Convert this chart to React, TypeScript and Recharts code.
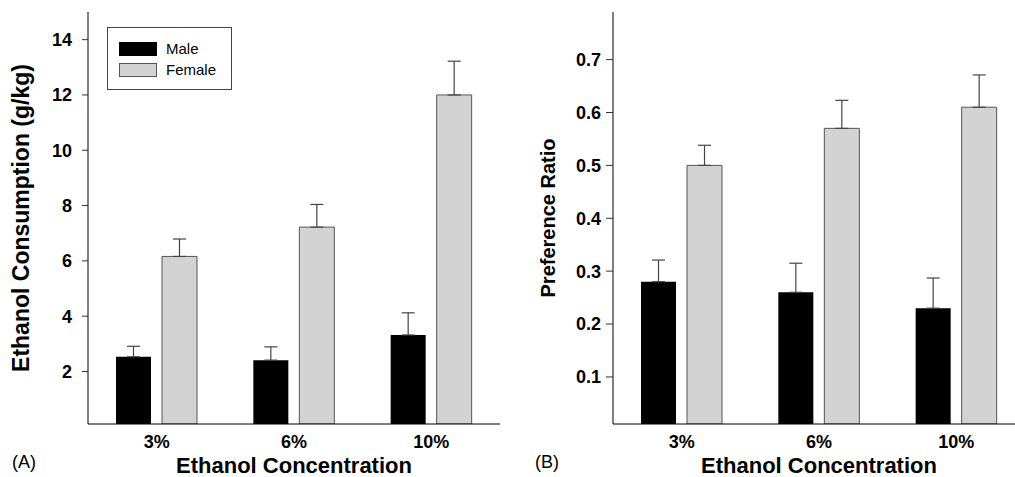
import React from 'react';
import { BarChart, Bar, XAxis, YAxis, ErrorBar } from 'recharts';

const concentrations = ['3%', '6%', '10%'];

// panel A: ethanol consumption (g/kg), mean and upper error
const maleConsumption = [2.53, 2.41, 3.32];
const maleConsumptionErr = [0.38, 0.48, 0.8];
const femaleConsumption = [6.16, 7.22, 12.0];
const femaleConsumptionErr = [0.63, 0.82, 1.22];

// panel B: preference ratio
const malePreference = [0.28, 0.26, 0.23];
const malePreferenceErr = [0.041, 0.055, 0.057];
const femalePreference = [0.5, 0.57, 0.61];
const femalePreferenceErr = [0.038, 0.053, 0.061];

const consumptionTicks = [2, 4, 6, 8, 10, 12, 14];
const preferenceTicks = [0.1, 0.2, 0.3, 0.4, 0.5, 0.6, 0.7];

const seriesNames = ['Male', 'Female'];
const seriesColors = ['#000000', '#d3d3d3'];

const FONT = '"Liberation Sans", Arial, Helvetica, sans-serif';

const buildRows = (male: number[], maleErr: number[], female: number[], femaleErr: number[]) =>
    concentrations.map((conc, i) => ({
        conc,
        male: male[i],
        maleErr: [0, maleErr[i]],
        female: female[i],
        femaleErr: [0, femaleErr[i]],
    }));

const consumptionRows = buildRows(maleConsumption, maleConsumptionErr, femaleConsumption, femaleConsumptionErr);
const preferenceRows = buildRows(malePreference, malePreferenceErr, femalePreference, femalePreferenceErr);

const YTitle = ({ viewBox, value, baseX, size }: any) => {
    const cy = viewBox.y + viewBox.height / 2;
    return (
        <text
            x={baseX}
            y={cy}
            transform={`rotate(-90 ${baseX} ${cy})`}
            textAnchor="middle"
            fontFamily={FONT}
            fontWeight="bold"
            fontSize={size}
            fill="#000"
        >
            {value}
        </text>
    );
};

const tickStyle = { fill: '#000', fontWeight: 'bold', fontSize: 18, fontFamily: FONT };

const Panel = ({ rows, ticks, domain, yTitle, yTitleX, yTitleSize, yWidth, yTickSize, yTickMargin, width, showRightFrame }: any) => (
    <BarChart
        width={width}
        height={477}
        data={rows}
        margin={{ top: 12, right: 20, left: 0, bottom: 0 }}
        barSize={35}
        barGap={11}
    >
        <XAxis
            dataKey="conc"
            height={53}
            tickSize={0}
            tickMargin={11}
            axisLine={{ stroke: '#000' }}
            tick={tickStyle}
            label={{
                value: 'Ethanol Concentration',
                position: 'insideBottom',
                offset: 4,
                fill: '#000',
                fontWeight: 'bold',
                fontSize: 22,
                fontFamily: FONT,
            }}
        />
        <XAxis xAxisId="top" dataKey="conc" orientation="top" height={0} tick={false} tickLine={false} axisLine={{ stroke: '#555' }} />
        <YAxis
            width={yWidth}
            domain={domain}
            ticks={ticks}
            allowDataOverflow
            tickSize={yTickSize}
            tickMargin={yTickMargin}
            tickLine={{ stroke: '#333' }}
            axisLine={{ stroke: '#000' }}
            tick={tickStyle}
            label={<YTitle value={yTitle} baseX={yTitleX} size={yTitleSize} />}
        />
        {showRightFrame && (
            <YAxis yAxisId="right" orientation="right" width={0} tick={false} tickLine={false} axisLine={{ stroke: '#555' }} />
        )}
        <Bar dataKey="male" name={seriesNames[0]} fill={seriesColors[0]} isAnimationActive={false}>
            <ErrorBar dataKey="maleErr" width={6.5} stroke="#444" strokeWidth={1.2} />
        </Bar>
        <Bar dataKey="female" name={seriesNames[1]} fill={seriesColors[1]} stroke="#555" strokeWidth={1} isAnimationActive={false}>
            <ErrorBar dataKey="femaleErr" width={6.5} stroke="#444" strokeWidth={1.2} />
        </Bar>
    </BarChart>
);

const Legend = () => (
    <div
        style={{
            position: 'absolute',
            left: 107,
            top: 27,
            width: 123,
            height: 61,
            border: '1px solid #444',
            background: '#fff',
            fontFamily: FONT,
            fontSize: 15,
            color: '#000',
        }}
    >
        {seriesNames.map((name, i) => (
            <div key={name} style={{ position: 'absolute', left: 11, top: 13 + i * 21.4, display: 'flex', alignItems: 'center', height: 15 }}>
                <div
                    style={{
                        width: 38,
                        height: 14,
                        background: seriesColors[i],
                        border: i === 1 ? '1px solid #555' : 'none',
                        boxSizing: 'border-box',
                    }}
                />
                <span style={{ marginLeft: 9, lineHeight: '15px' }}>{name}</span>
            </div>
        ))}
    </div>
);

const panelTag = (text: string, left: number) => (
    <div style={{ position: 'absolute', left, top: 452, fontFamily: FONT, fontSize: 18, color: '#000', lineHeight: '20px' }}>{text}</div>
);

export default function App() {
    return (
        <div style={{ position: 'absolute', left: 0, top: 0, width: 1015, height: 477, overflow: 'hidden', background: '#fff' }}>
            <div style={{ position: 'absolute', left: 0, top: 0 }}>
                <Panel
                    rows={consumptionRows}
                    ticks={consumptionTicks}
                    domain={[0.1, 15]}
                    yTitle="Ethanol Consumption (g/kg)"
                    yTitleX={29}
                    yTitleSize={23}
                    yWidth={88}
                    yTickSize={6}
                    yTickMargin={10}
                    width={520}
                    showRightFrame
                />
            </div>
            <div style={{ position: 'absolute', left: 500, top: 0 }}>
                <Panel
                    rows={preferenceRows}
                    ticks={preferenceTicks}
                    domain={[0.011, 0.79]}
                    yTitle="Preference Ratio"
                    yTitleX={55}
                    yTitleSize={20}
                    yWidth={113}
                    yTickSize={7}
                    yTickMargin={5}
                    width={545}
                    showRightFrame={false}
                />
            </div>
            <Legend />
            {panelTag('(A)', 12)}
            {panelTag('(B)', 535)}
        </div>
    );
}
